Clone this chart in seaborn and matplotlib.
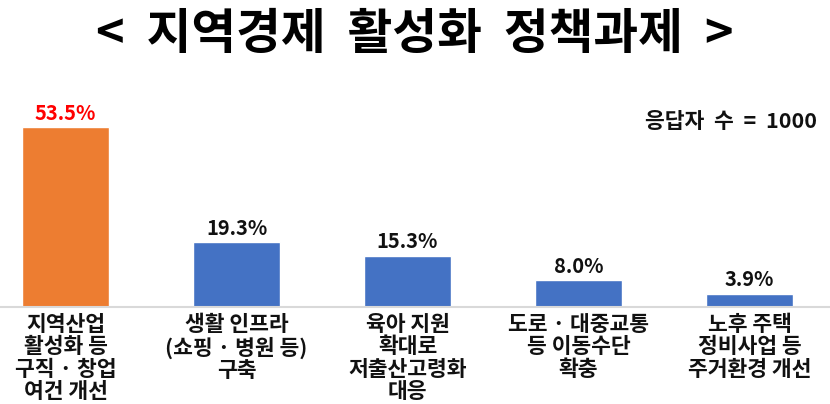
import matplotlib
matplotlib.use("Agg")
import matplotlib.pyplot as plt
import seaborn as sns
import pandas as pd

# 데이터
categories = [
    "지역산업\n활성화 등\n구직 · 창업\n여건 개선",
    "생활 인프라\n(쇼핑 · 병원 등)\n구축",
    "육아 지원\n확대로\n저출산고령화\n대응",
    "도로 · 대중교통\n등 이동수단\n확충",
    "노후 주택\n정비사업 등\n주거환경 개선",
]
values = [53.5, 19.3, 15.3, 8.0, 3.9]
bar_colors = ["#ED7D31", "#4472C4", "#4472C4", "#4472C4", "#4472C4"]
label_colors = ["#FF0000", "#111111", "#111111", "#111111", "#111111"]

sns.set_style("white")
plt.rcParams['font.family'] = ['Noto Sans CJK KR', 'DejaVu Sans']

datos = pd.DataFrame({"항목": categories, "비율": values})

fig = plt.figure(figsize=(8.3, 4.04), dpi=100)
ax = fig.add_axes([0, 0.24, 1, 0.537])

sns.barplot(data=datos, x="항목", y="비율", hue="항목", palette=bar_colors,
            width=0.51, legend=False, ax=ax, saturation=1)

ax.set_xlim(-0.383, 4.47)
ax.set_ylim(0, 64.5)

# 값 라벨
for i, v in enumerate(values):
    ax.annotate(f"{v:.1f}%", (i, v), xytext=(0, 2.5), textcoords="offset points",
                ha="center", va="bottom", fontsize=14.5, fontweight="bold",
                color=label_colors[i])

# 축 정리
for s in ["top", "right", "left"]:
    ax.spines[s].set_visible(False)
ax.spines["bottom"].set_color("#D9D9D9")
ax.spines["bottom"].set_linewidth(1.5)
ax.set_yticks([])
ax.set_xlabel("")
ax.set_ylabel("")
ax.tick_params(axis="x", length=0, pad=5)
ax.set_xticks(range(len(categories)))
ax.set_xticklabels(categories, fontsize=15.5, fontweight="bold", linespacing=1.08,
                   va="top", color="#111111")

fig.text(0.5, 0.915, "<  지역경제  활성화  정책과제  >", ha="center", va="center",
         fontsize=35, fontweight="bold", color="black")
fig.text(0.984, 0.70, "응답자  수  =  1000", ha="right", va="center",
         fontsize=15.5, fontweight="bold", color="#111111")

fig.savefig("out.png", dpi=100)
